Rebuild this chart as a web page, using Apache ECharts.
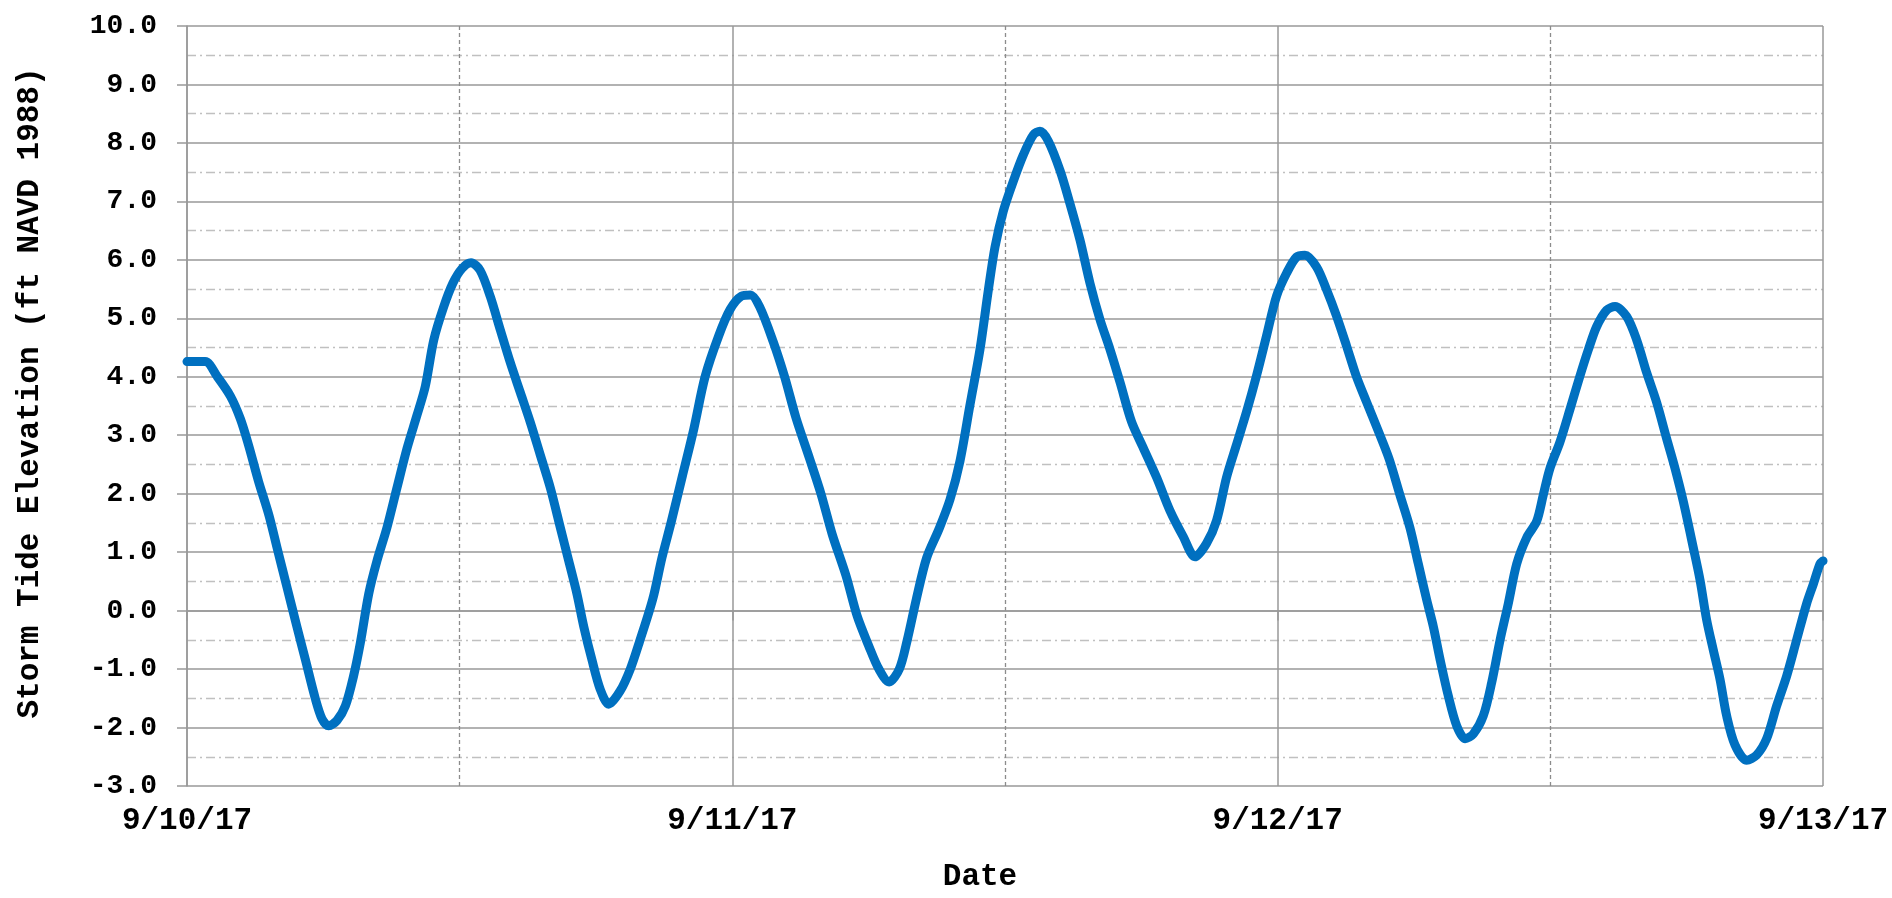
<!DOCTYPE html>
<html>
<head>
<meta charset="utf-8">
<script src="https://cdn.jsdelivr.net/npm/echarts@6/dist/echarts.min.js"></script>
<style>html,body{margin:0;padding:0;background:#fff;}#c{width:1892px;height:898px;}</style>
</head>
<body>
<div id="c"></div>
<script>
// hours since 9/10/17 00:00
const hours = [0, 0.8, 1.32, 1.91, 2.35, 2.71, 3.15, 3.6, 3.96, 4.4,
  4.84, 5.21, 5.65, 5.94, 6.23, 6.6, 6.97, 7.33, 7.63, 8.0,
  8.36, 8.8, 9.24, 9.68, 10.12, 10.49, 10.86, 11.3, 11.7, 12.1,
  12.5, 12.9, 13.35, 13.79, 14.23, 14.67, 15.11, 15.55, 15.99, 16.43,
  16.8, 17.16, 17.46, 17.82, 18.19, 18.56, 19.07, 19.51, 19.9, 20.5,
  20.9, 21.3, 21.8, 22.3, 22.8, 23.4, 23.9, 24.4, 24.8, 25.2,
  25.8, 26.3, 26.8, 27.4, 27.9, 28.4, 29.0, 29.5, 30.0, 30.45,
  30.9, 31.35, 31.7, 32.1, 32.55, 33.1, 33.58, 34.02, 34.46, 34.9,
  35.27, 35.56, 35.93, 36.37, 36.81, 37.25, 37.54, 37.91, 38.43, 38.86,
  39.3, 39.74, 40.18, 40.62, 41.06, 41.57, 42.09, 42.67, 43.26, 43.85,
  44.36, 44.87, 45.31, 45.75, 46.19, 46.63, 47.07, 47.51, 47.95, 48.39,
  48.83, 49.2, 49.71, 50.15, 50.59, 51.03, 51.47, 51.91, 52.4, 52.9,
  53.38, 53.82, 54.19, 54.56, 54.85, 55.15, 55.51, 55.88, 56.25, 56.61,
  57.05, 57.42, 57.79, 58.15, 58.52, 58.96, 59.4, 59.69, 59.98, 60.42,
  60.87, 61.3, 61.67, 62.04, 62.48, 62.85, 63.36, 63.8, 64.24, 64.68,
  65.12, 65.49, 65.85, 66.29, 66.59, 66.88, 67.17, 67.47, 67.76, 68.13,
  68.64, 69.08, 69.52, 69.96, 70.4, 70.84, 71.28, 71.58, 71.87, 72];
// storm tide elevation (ft NAVD 1988)
const elevation = [4.26, 4.26, 4.01, 3.67, 3.28, 2.83, 2.21, 1.64, 1.08, 0.40,
  -0.28, -0.84, -1.51, -1.85, -1.97, -1.88, -1.63, -1.12, -0.55, 0.29,
  0.85, 1.42, 2.10, 2.77, 3.34, 3.84, 4.63, 5.2, 5.6, 5.85,
  5.95, 5.82, 5.37, 4.80, 4.24, 3.73, 3.22, 2.66, 2.10, 1.42,
  0.85, 0.29, -0.27, -0.84, -1.35, -1.60, -1.37, -1.0, -0.55, 0.2,
  0.9, 1.5, 2.3, 3.1, 4.0, 4.7, 5.15, 5.38, 5.4, 5.2,
  4.6, 4.0, 3.3, 2.6, 2.0, 1.3, 0.6, -0.1, -0.6, -1.0,
  -1.22, -1.0, -0.5, 0.2, 0.9, 1.4, 1.9, 2.56, 3.52, 4.47,
  5.49, 6.22, 6.84, 7.35, 7.80, 8.14, 8.20, 8.03, 7.52, 6.96,
  6.34, 5.60, 4.98, 4.47, 3.91, 3.23, 2.78, 2.28, 1.71, 1.26,
  0.92, 1.15, 1.54, 2.28, 2.84, 3.40, 4.02, 4.70, 5.38, 5.77,
  6.05, 6.08, 5.88, 5.49, 5.04, 4.53, 4.0, 3.57, 3.1, 2.6,
  1.98, 1.42, 0.80, 0.18, -0.27, -0.84, -1.46, -1.97, -2.19, -2.11,
  -1.80, -1.23, -0.50, 0.12, 0.80, 1.25, 1.53, 1.98, 2.43, 2.88,
  3.45, 4.01, 4.46, 4.86, 5.14, 5.2, 5.03, 4.63, 4.07, 3.56,
  2.94, 2.43, 1.87, 1.08, 0.52, -0.16, -0.67, -1.18, -1.80, -2.30,
  -2.56, -2.47, -2.19, -1.63, -1.12, -0.50, 0.12, 0.46, 0.80, 0.85];
const xTickLabels = ['9/10/17', '9/11/17', '9/12/17', '9/13/17'];
const xTitle = 'Date';
const yTitle = 'Storm Tide Elevation (ft NAVD 1988)';

const font = '"Liberation Mono", "DejaVu Sans Mono", monospace';
const chart = echarts.init(document.getElementById('c'), null, {renderer: 'canvas'});
chart.setOption({
  animation: false,
  backgroundColor: '#fff',
  grid: {left: 187, right: 69, top: 26, bottom: 105, containLabel: false},
  xAxis: {
    type: 'value', min: 0, max: 72, interval: 24,
    name: xTitle, nameLocation: 'middle', nameGap: 76,
    nameTextStyle: {fontFamily: font, fontWeight: 'bold', fontSize: 31, color: '#000', padding: [0, 50, 0, 0]},
    axisLine: {show: true, lineStyle: {color: '#999', width: 1.5}},
    axisTick: {show: true, length: 10, lineStyle: {color: '#999', width: 1.5}},
    axisLabel: {fontFamily: font, fontWeight: 'bold', fontSize: 31, color: '#000', margin: 20,
      formatter: v => xTickLabels[Math.round(v / 24)]},
    splitLine: {show: true, lineStyle: {color: '#999', width: 1.5, type: 'solid'}},
    minorTick: {show: false, splitNumber: 2},
    minorSplitLine: {show: true, lineStyle: {color: '#8c8c8c', width: 1.3, type: [4, 3]}}
  },
  yAxis: {
    type: 'value', min: -3, max: 10, interval: 1,
    name: yTitle, nameLocation: 'middle', nameGap: 141, nameRotate: 90,
    nameTextStyle: {fontFamily: font, fontWeight: 'bold', fontSize: 31, color: '#000', padding: [0, 0, 0, 26]},
    axisLine: {show: true, lineStyle: {color: '#999', width: 1.5}},
    axisTick: {show: true, length: 10, lineStyle: {color: '#999', width: 1.5}},
    axisLabel: {fontFamily: font, fontWeight: 'bold', fontSize: 28, color: '#000', margin: 30,
      formatter: v => v.toFixed(1)},
    splitLine: {show: true, lineStyle: {color: '#999', width: 1.5}},
    minorTick: {show: false, splitNumber: 2},
    minorSplitLine: {show: true, lineStyle: {color: '#c0c0c0', width: 1.3, type: [9, 4, 2, 4]}}
  },
  series: [{
    type: 'line',
    data: hours.map((h, i) => [h, elevation[i]]),
    showSymbol: false,
    smooth: 0.3,
    lineStyle: {color: '#0070C0', width: 9, cap: 'round', join: 'round'},
    clip: true
  }]
});
</script>
</body>
</html>
